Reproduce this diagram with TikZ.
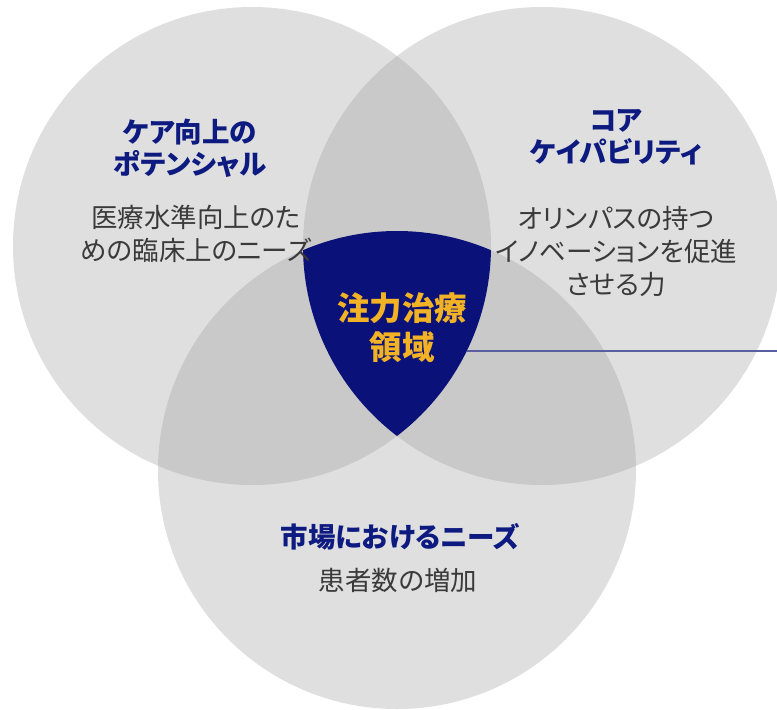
\documentclass[tikz,border=0pt]{standalone}
\usepackage{fontspec}
\newfontfamily\jp[RawFeature={+palt}]{Noto Sans CJK JP}
\definecolor{circfill}{HTML}{DFDFDF}
\definecolor{overfill}{HTML}{C9C9C9}
\definecolor{navyfill}{HTML}{0A1178}
\definecolor{titlecol}{HTML}{0D1A80}
\definecolor{goldcol}{HTML}{F2B226}
\definecolor{subcol}{HTML}{3A3A3A}
\definecolor{linecol}{HTML}{5A5FA0}
\tikzset{
  titletext/.style={font=\jp\bfseries\fontsize{27.5}{32}\selectfont, text=titlecol, align=center, inner sep=0pt},
  subtext/.style={font=\jp\fontsize{26.5}{33}\selectfont, text=subcol, align=center, inner sep=0pt},
  centertext/.style={font=\jp\bfseries\fontsize{32.5}{39}\selectfont, text=goldcol, align=center, inner sep=0pt},
}
\begin{document}
\begin{tikzpicture}[x=1pt,y=-1pt]
\useasboundingbox (0,0) rectangle (777,710);
\fill[white] (0,0) rectangle (777,710);
\coordinate (cl) at (252,246);
\coordinate (cr) at (542,246);
\coordinate (cb) at (397,470);
% circles
\fill[circfill] (cl) circle (239pt);
\fill[circfill] (cr) circle (239pt);
\fill[circfill] (cb) circle (239pt);
% pairwise overlaps
\begin{scope}
  \clip (cl) circle (239pt);
  \fill[overfill] (cr) circle (239pt);
  \fill[overfill] (cb) circle (239pt);
\end{scope}
\begin{scope}
  \clip (cr) circle (239pt);
  \fill[overfill] (cb) circle (239pt);
\end{scope}
% triple overlap
\begin{scope}
  \clip (cl) circle (239pt);
  \clip (cr) circle (239pt);
  \fill[navyfill] (cb) circle (239pt);
\end{scope}
% connector line
\coordinate (lineA) at (467,351);
\coordinate (lineB) at (777,351);
\draw[linecol, line width=1.5pt] (lineA) -- (lineB);
% texts
\node[titletext] (t1) at (190,148) {ケア向上の\\ポテンシャル};
\node[subtext] (s1) at (196,234) {医療水準向上のた\\めの臨床上のニーズ};
\node[titletext] (t2) at (616,137) {コア\\ケイパビリティ};
\node[subtext] (s2) at (616,251) {オリンパスの持つ\\イノベーションを促進\\させる力};
\node[titletext] (t3) at (400,537) {市場におけるニーズ};
\node[subtext] (s3) at (398,580) {患者数の増加};
\node[centertext] (c) at (402,328) {注力治療\\領域};
\end{tikzpicture}
\end{document}
